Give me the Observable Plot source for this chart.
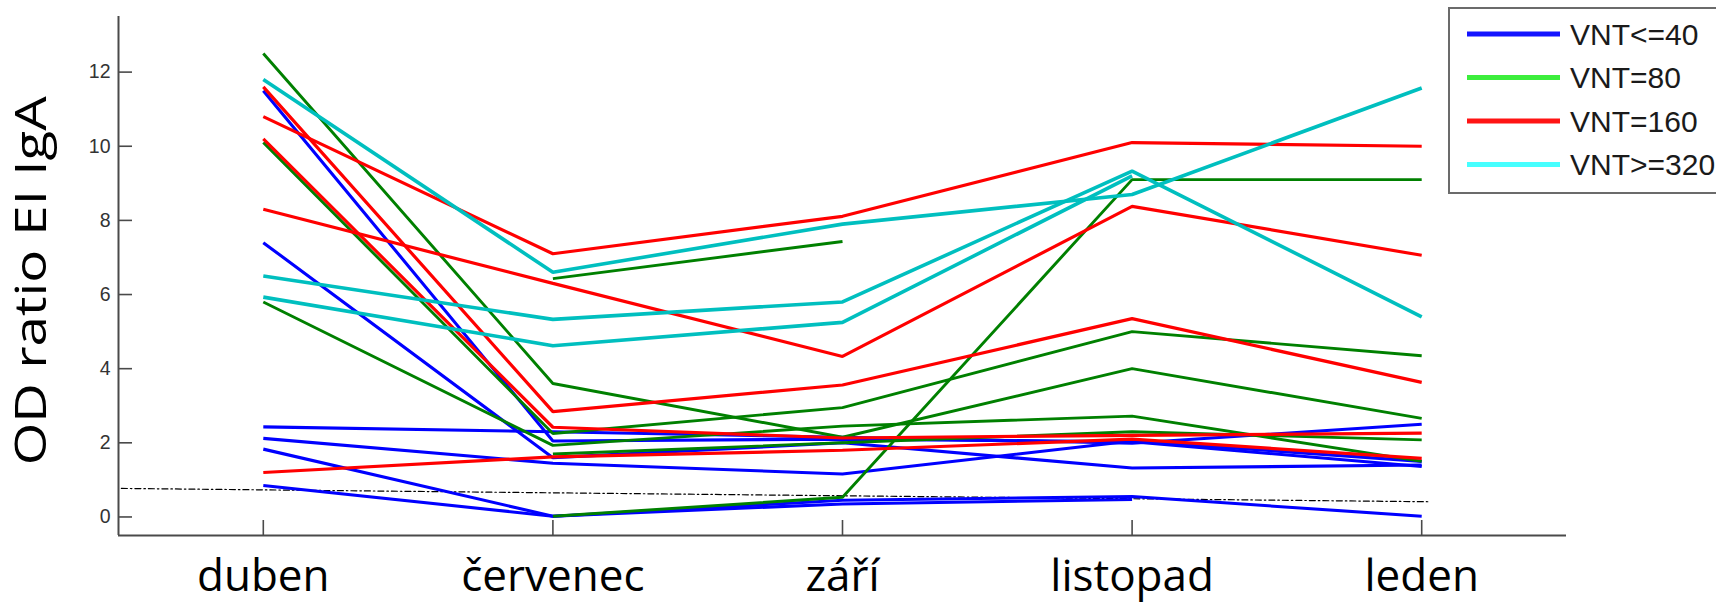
<!DOCTYPE html>
<html>
<head>
<meta charset="utf-8">
<script src="https://cdn.jsdelivr.net/npm/d3@7"></script>
<script src="https://cdn.jsdelivr.net/npm/@observablehq/plot@0.6"></script>
<style>
  html, body { margin: 0; padding: 0; background: #fff; overflow: hidden; }
  #wrap { position: relative; width: 1716px; height: 602px; }
  #overlay { position: absolute; left: 0; top: 0; pointer-events: none; }
</style>
</head>
<body>
<div id="wrap">
  <div id="chart"></div>
  <svg id="overlay" width="1716" height="602"></svg>
</div>
<script>
// ---------- data ----------
const months = ["duben", "červenec", "září", "listopad", "leden"];
const monthIndex = [1, 2, 3, 4, 5];
const yTicks = [0, 2, 4, 6, 8, 10, 12];
const yLabel = "OD ratio EI IgA";
const groups = ["VNT<=40", "VNT=80", "VNT=160", "VNT>=320"];

// values per month (duben, červenec, září, listopad, leden); null = missing
const vnt40 = [
  [11.5, 2.05, 2.10, 2.03, 1.36],
  [7.4, 1.60, 2.00, 1.32, 1.40],
  [2.43, 2.30, 2.15, 1.99, 2.50],
  [2.12, 1.45, 1.16, 2.05, 1.50],
  [1.83, 0.02, 0.45, 0.55, 0.02],
  [0.85, 0.02, 0.35, 0.47, null]
];
const vnt80 = [
  [12.5, 3.60, 2.15, 4.00, 2.66],
  [5.8, 1.93, 2.45, 2.72, 1.50],
  [10.1, 2.25, 2.95, 5.00, 4.35],
  [null, 6.43, 7.43, null, null],
  [null, 0.02, 0.53, 9.10, 9.10],
  [null, 1.70, 2.00, 2.30, 2.08]
];
const vnt160 = [
  [11.6, 2.84, 3.56, 5.35, 3.63],
  [10.8, 7.10, 8.11, 10.10, 10.00],
  [10.2, 2.42, 2.13, 2.20, 2.26],
  [8.3, 6.30, 4.33, 8.38, 7.06],
  [1.2, 1.62, 1.80, 2.10, 1.58]
];
const vnt320 = [
  [11.8, 6.60, 7.90, 8.70, 11.57],
  [6.5, 5.33, 5.80, 9.33, 5.40],
  [5.93, 4.62, 5.25, 9.20, null]
];
// dash-dot reference line (x in month units, y values)
const refX = [0.51, 5.03];
const refY = [0.77, 0.41];

// ---------- styles ----------
const lineColor = {"VNT<=40": "#0000ff", "VNT=80": "#008000", "VNT=160": "#ff0000", "VNT>=320": "#00bfbf"};
const legendColor = {"VNT<=40": "#1414ff", "VNT=80": "#3cee3c", "VNT=160": "#ff1414", "VNT>=320": "#46ffff"};
const lineWidth = {"VNT<=40": 3.1, "VNT=80": 2.9, "VNT=160": 3.2, "VNT>=320": 3.6};
const axisColor = "#4a4a4a";

// ---------- build table ----------
const seriesSets = [vnt40, vnt80, vnt160, vnt320];
const rows = [];
seriesSets.forEach((set, gi) => {
  set.forEach((vals, si) => {
    vals.forEach((v, mi) => {
      rows.push({id: groups[gi] + "-" + si, group: groups[gi], m: monthIndex[mi], v});
    });
  });
});
const refRows = refX.map((x, i) => ({x, y: refY[i]}));

const W = 1716, H = 602;
const mL = 118, mR = 150, mT = 16, mB = 67;
const frameW = W - mL - mR, frameH = H - mT - mB;

const chart = Plot.plot({
  width: W, height: H,
  marginLeft: mL, marginRight: mR, marginTop: mT, marginBottom: mB,
  x: {type: "linear", domain: [0.5, 5.5]},
  y: {type: "linear", domain: [-0.5, 13.5]},
  style: {background: "transparent", overflow: "visible"},
  marks: [
    Plot.line(refRows, {x: "x", y: "y", stroke: "#000", strokeWidth: 1.2, strokeDasharray: "6,3,1.5,3"}),
    Plot.line(rows, {
      x: "m", y: "v", z: "id",
      stroke: d => lineColor[d.group],
      strokeWidth: d => lineWidth[d.group],
      strokeLinejoin: "miter", strokeLinecap: "butt"
    }),
    Plot.ruleX([0.5], {stroke: axisColor, strokeWidth: 2}),
    Plot.ruleY([-0.5], {stroke: axisColor, strokeWidth: 2}),
    Plot.tickX(monthIndex, {x: d => d, stroke: axisColor, strokeWidth: 1.6, insetTop: frameH - 15}),
    Plot.tickY(yTicks, {y: d => d, stroke: axisColor, strokeWidth: 1.6, insetRight: frameW - 14}),
    Plot.axisX({ticks: monthIndex, tickFormat: d => months[d - 1], tickSize: 0, tickPadding: 24,
      fontSize: 44, fontFamily: "Open Sans", fill: "#000", label: null}),
    Plot.axisY({ticks: yTicks, tickSize: 0, tickPadding: 8, fontSize: 19.5,
      fontFamily: "Liberation Sans", fill: "#333", label: null})
  ]
});
document.getElementById("chart").appendChild(chart);

// ---------- overlay: y-axis title and legend ----------
const ov = d3.select("#overlay");
const titleLen = 369; // target length of the rotated title in px
const yt = ov.append("text")
  .attr("text-anchor", "middle")
  .attr("font-family", "Open Sans, sans-serif").attr("font-size", 44).attr("fill", "#000")
  .text(yLabel);
const natural = yt.node().getComputedTextLength() || titleLen;
yt.attr("transform", `translate(46,280.7) rotate(-90) scale(${titleLen / natural},1)`);

ov.append("rect").attr("x", 1449).attr("y", 8).attr("width", 300).attr("height", 185)
  .attr("fill", "#fff").attr("stroke", "#6b6b6b").attr("stroke-width", 2);
const rowY = [34, 77.5, 121, 164.5];
groups.forEach((g, i) => {
  ov.append("line").attr("x1", 1467).attr("x2", 1560).attr("y1", rowY[i]).attr("y2", rowY[i])
    .attr("stroke", legendColor[g]).attr("stroke-width", 5);
  ov.append("text").attr("x", 1570).attr("y", rowY[i] + 10.8).text(g)
    .attr("font-family", "Liberation Sans, Arial, sans-serif").attr("font-size", 30).attr("fill", "#1a1a1a");
});
</script>
</body>
</html>
